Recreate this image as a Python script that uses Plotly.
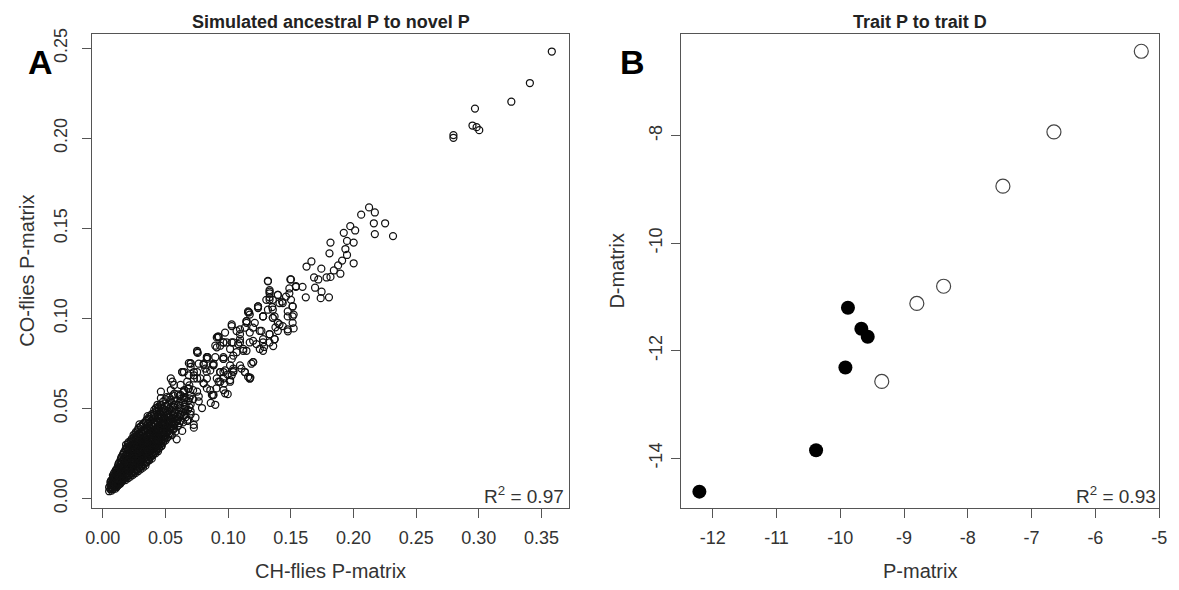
import plotly.graph_objects as go

# ---------------- Panel A: CH-flies vs CO-flies P-matrix elements ----------------
# sparse upper tail
a_tail = [
    (0.3582, 0.2482), (0.3407, 0.2307), (0.3259, 0.2203), (0.2969, 0.2165),
    (0.2949, 0.2071), (0.2982, 0.2062), (0.3003, 0.2045), (0.2797, 0.2018),
    (0.2797, 0.2003),
]

# upper arm of the cloud
a_arm = [
    (0.2124, 0.1616), (0.2061, 0.1576), (0.1974, 0.1512), (0.1922, 0.1475),
    (0.2013, 0.1488), (0.1948, 0.1430), (0.2001, 0.1421), (0.1816, 0.1421),
    (0.1935, 0.1385), (0.1808, 0.1361), (0.1948, 0.1352), (0.2001, 0.1306),
    (0.1909, 0.1321), (0.1877, 0.1294), (0.1843, 0.1266), (0.1895, 0.1248),
    (0.1664, 0.1316), (0.1625, 0.1288), (0.1743, 0.1276), (0.1816, 0.1230),
    (0.1785, 0.1227), (0.1685, 0.1227), (0.1719, 0.1216), (0.1693, 0.1170),
    (0.1745, 0.1148), (0.1804, 0.1117), (0.1738, 0.1112), (0.1619, 0.1117),
    (0.1593, 0.1175), (0.1540, 0.1175), (0.1501, 0.1216), (0.1488, 0.1166),
    (0.1501, 0.1103), (0.1514, 0.1066), (0.1461, 0.1121), (0.1396, 0.1130),
    (0.1330, 0.1157), (0.1317, 0.1208), (0.1330, 0.1117), (0.1430, 0.1093),
    (0.1238, 0.1066), (0.1159, 0.1033), (0.1351, 0.1063), (0.1370, 0.1011),
    (0.1278, 0.1011), (0.1475, 0.1011), (0.1514, 0.0975), (0.1435, 0.0957),
    (0.1146, 0.0975), (0.2170, 0.1588), (0.2252, 0.1528), (0.2162, 0.1528),
    (0.2170, 0.1468), (0.2315, 0.1457),
]

# middle section, moderately dense
a_mid = [
    (0.1317, 0.1206), (0.1496, 0.1216), (0.1541, 0.1179), (0.1330, 0.1148),
    (0.1396, 0.1130), (0.1488, 0.1139), (0.1330, 0.1103), (0.1435, 0.1085),
    (0.1514, 0.1066), (0.1356, 0.1048), (0.1475, 0.1039), (0.1514, 0.1011),
    (0.1167, 0.1033), (0.1278, 0.1011), (0.1356, 0.1003), (0.1409, 0.0966),
    (0.1475, 0.0939), (0.1396, 0.0930), (0.1238, 0.1057), (0.1146, 0.0984),
    (0.1028, 0.0957), (0.1199, 0.0948), (0.1265, 0.0930), (0.1330, 0.0912),
    (0.1094, 0.0912), (0.0923, 0.0894), (0.0988, 0.0866), (0.1080, 0.0857),
    (0.1172, 0.0866), (0.1278, 0.0884), (0.1370, 0.0884), (0.0909, 0.0839),
    (0.1015, 0.0830), (0.1120, 0.0820), (0.1199, 0.0757), (0.1028, 0.0775),
    (0.0962, 0.0784), (0.0752, 0.0812), (0.0830, 0.0784), (0.0700, 0.0748),
    (0.0883, 0.0748), (0.1094, 0.0739), (0.0817, 0.0721), (0.0647, 0.0702),
    (0.0752, 0.0702), (0.0962, 0.0702), (0.1041, 0.0721), (0.1133, 0.0702),
    (0.1172, 0.0666), (0.0542, 0.0666), (0.0620, 0.0630), (0.0726, 0.0666),
    (0.0804, 0.0639), (0.0909, 0.0666), (0.1015, 0.0657), (0.0857, 0.0602),
    (0.0752, 0.0593), (0.0647, 0.0593), (0.0962, 0.0602),
    (0.1330, 0.1139), (0.1409, 0.1085), (0.1238, 0.1066), (0.1159, 0.1039),
    (0.1278, 0.1011), (0.1356, 0.1003), (0.1396, 0.0975), (0.1146, 0.0984),
    (0.1212, 0.0975), (0.1028, 0.0966), (0.1094, 0.0939), (0.1067, 0.0930),
    (0.1172, 0.0921), (0.1252, 0.0930), (0.1330, 0.0912), (0.1370, 0.0884),
    (0.0909, 0.0894), (0.0962, 0.0866), (0.1028, 0.0866), (0.1094, 0.0866),
    (0.1199, 0.0875), (0.1278, 0.0866), (0.1252, 0.0830), (0.1146, 0.0820),
    (0.1067, 0.0812), (0.0962, 0.0775), (0.0897, 0.0784), (0.0752, 0.0820),
    (0.0830, 0.0775), (0.0765, 0.0748), (0.1015, 0.0739), (0.1106, 0.0721),
    (0.1185, 0.0748), (0.1159, 0.0675), (0.1028, 0.0684), (0.0936, 0.0702),
    (0.0857, 0.0711), (0.0686, 0.0684), (0.0752, 0.0666), (0.0830, 0.0666),
    (0.0962, 0.0666), (0.0700, 0.0730), (0.1317, 0.1048), (0.1356, 0.1103),
    (0.1304, 0.1103), (0.1172, 0.1021), (0.1133, 0.0948), (0.0975, 0.0921),
    (0.0923, 0.0899), (0.0962, 0.0866), (0.0897, 0.0848), (0.1041, 0.0866),
    (0.1094, 0.0884), (0.1120, 0.0830), (0.1225, 0.0857), (0.1330, 0.0866),
    (0.1278, 0.0820), (0.0830, 0.0784), (0.0962, 0.0775), (0.1041, 0.0793),
    (0.1199, 0.0757), (0.0686, 0.0751), (0.0804, 0.0742), (0.0883, 0.0739),
    (0.0975, 0.0711), (0.1041, 0.0702), (0.1133, 0.0702), (0.0633, 0.0702),
    (0.0726, 0.0702), (0.1172, 0.0666), (0.1015, 0.0648), (0.0923, 0.0648),
    (0.0804, 0.0639), (0.0673, 0.0648), (0.0568, 0.0630), (0.0463, 0.0593),
    (0.0975, 0.0584), (0.0870, 0.0575), (0.0765, 0.0566), (0.0647, 0.0557),
    (0.0542, 0.0539), (0.0897, 0.0520), (0.0791, 0.0502), (0.0700, 0.0484),
    (0.0620, 0.0466), (0.0515, 0.0484), (0.0436, 0.0520), (0.0726, 0.0393),
    (0.0633, 0.0375), (0.0568, 0.0411), (0.0673, 0.0430), (0.0489, 0.0430),
    (0.0757, 0.0808), (0.0836, 0.0784), (0.0700, 0.0751), (0.0917, 0.0899),
    (0.0936, 0.0848), (0.0804, 0.0748), (0.0878, 0.0742), (0.0633, 0.0702),
    (0.0555, 0.0648), (0.0463, 0.0557), (0.0542, 0.0602), (0.0423, 0.0502),
    (0.0357, 0.0457), (0.0292, 0.0411), (0.0778, 0.0666), (0.0830, 0.0611),
    (0.0883, 0.0575), (0.0765, 0.0539), (0.0700, 0.0466), (0.0828, 0.0704),
    (0.0726, 0.0684), (0.0686, 0.0611), (0.0620, 0.0575), (0.0568, 0.0520),
    (0.0515, 0.0466), (0.0660, 0.0484), (0.0936, 0.0702), (0.0936, 0.0648),
    (0.0594, 0.0430), (0.0489, 0.0411), (0.0739, 0.0448),
    (0.1359, 0.0846), (0.1286, 0.0841), (0.1177, 0.0671), (0.1042, 0.0710),
    (0.0996, 0.0688), (0.0969, 0.0639), (0.0906, 0.0611), (0.0996, 0.0579),
    (0.0879, 0.0573), (0.0861, 0.0530), (0.0725, 0.0409), (0.0679, 0.0437),
    (0.0562, 0.0382), (0.0589, 0.0328), (0.1522, 0.0944), (0.1476, 0.0928),
    (0.1377, 0.0950), (0.1522, 0.1021),
]

# dense core near the origin: (CH-flies value, [CO-flies values])
a_core_cols = [
    (0.005, [0.0040, 0.0062]),
    (0.006, [0.0051, 0.0072, 0.0090]),
    (0.007, [0.0043, 0.0063, 0.0081, 0.0102]),
    (0.008, [0.0052, 0.0071, 0.0093, 0.0112, 0.0128]),
    (0.009, [0.0061, 0.0083, 0.0101, 0.0119, 0.0142]),
    (0.010, [0.0054, 0.0072, 0.0094, 0.0108, 0.0131, 0.0152]),
    (0.011, [0.0063, 0.0080, 0.0103, 0.0122, 0.0141, 0.0163]),
    (0.012, [0.0071, 0.0092, 0.0112, 0.0133, 0.0154, 0.0179]),
    (0.013, [0.0078, 0.0101, 0.0121, 0.0143, 0.0168, 0.0198]),
    (0.014, [0.0083, 0.0109, 0.0132, 0.0158, 0.0187, 0.0211]),
    (0.015, [0.0092, 0.0118, 0.0141, 0.0172, 0.0201, 0.0232]),
    (0.016, [0.0101, 0.0128, 0.0152, 0.0181, 0.0213, 0.0243]),
    (0.017, [0.0109, 0.0139, 0.0163, 0.0192, 0.0222, 0.0258]),
    (0.018, [0.0102, 0.0131, 0.0168, 0.0201, 0.0233, 0.0271]),
    (0.019, [0.0118, 0.0151, 0.0182, 0.0212, 0.0248, 0.0283]),
    (0.020, [0.0112, 0.0141, 0.0172, 0.0203, 0.0238, 0.0268, 0.0302]),
    (0.021, [0.0129, 0.0161, 0.0192, 0.0221, 0.0252, 0.0291]),
    (0.022, [0.0121, 0.0152, 0.0181, 0.0213, 0.0242, 0.0273, 0.0312]),
    (0.023, [0.0138, 0.0171, 0.0201, 0.0232, 0.0262, 0.0299, 0.0331]),
    (0.024, [0.0131, 0.0162, 0.0193, 0.0221, 0.0253, 0.0282, 0.0318]),
    (0.025, [0.0148, 0.0181, 0.0212, 0.0241, 0.0272, 0.0302, 0.0341]),
    (0.026, [0.0141, 0.0172, 0.0201, 0.0233, 0.0261, 0.0292, 0.0329, 0.0362]),
    (0.027, [0.0158, 0.0191, 0.0222, 0.0251, 0.0282, 0.0311, 0.0352]),
    (0.028, [0.0151, 0.0182, 0.0211, 0.0242, 0.0271, 0.0302, 0.0338, 0.0381]),
    (0.029, [0.0168, 0.0201, 0.0231, 0.0262, 0.0291, 0.0322, 0.0361]),
    (0.030, [0.0161, 0.0192, 0.0221, 0.0252, 0.0281, 0.0312, 0.0349, 0.0398]),
    (0.031, [0.0178, 0.0211, 0.0242, 0.0271, 0.0302, 0.0331, 0.0372]),
    (0.032, [0.0171, 0.0202, 0.0231, 0.0262, 0.0291, 0.0322, 0.0358, 0.0412]),
    (0.033, [0.0189, 0.0222, 0.0251, 0.0282, 0.0312, 0.0341, 0.0381]),
    (0.034, [0.0182, 0.0211, 0.0242, 0.0271, 0.0302, 0.0338, 0.0372, 0.0421]),
    (0.035, [0.0201, 0.0232, 0.0261, 0.0292, 0.0322, 0.0351, 0.0391, 0.0438]),
    (0.036, [0.0219, 0.0252, 0.0281, 0.0311, 0.0342, 0.0379, 0.0412]),
    (0.037, [0.0212, 0.0241, 0.0272, 0.0302, 0.0331, 0.0362, 0.0401, 0.0452]),
    (0.038, [0.0229, 0.0262, 0.0291, 0.0322, 0.0351, 0.0389, 0.0428]),
    (0.039, [0.0221, 0.0252, 0.0281, 0.0312, 0.0342, 0.0371, 0.0411, 0.0468]),
    (0.040, [0.0241, 0.0272, 0.0301, 0.0331, 0.0362, 0.0398, 0.0441]),
    (0.041, [0.0259, 0.0291, 0.0322, 0.0352, 0.0381, 0.0419, 0.0462, 0.0492]),
    (0.042, [0.0251, 0.0282, 0.0311, 0.0342, 0.0371, 0.0409, 0.0451]),
    (0.043, [0.0271, 0.0302, 0.0331, 0.0362, 0.0392, 0.0428, 0.0481]),
    (0.044, [0.0262, 0.0291, 0.0322, 0.0351, 0.0382, 0.0418, 0.0462, 0.0508]),
    (0.045, [0.0281, 0.0312, 0.0341, 0.0372, 0.0402, 0.0441, 0.0489]),
    (0.046, [0.0301, 0.0331, 0.0362, 0.0391, 0.0422, 0.0468, 0.0521]),
    (0.047, [0.0292, 0.0322, 0.0351, 0.0382, 0.0411, 0.0452, 0.0502]),
    (0.048, [0.0311, 0.0342, 0.0371, 0.0402, 0.0431, 0.0479, 0.0538]),
    (0.049, [0.0331, 0.0362, 0.0391, 0.0422, 0.0459, 0.0511]),
    (0.050, [0.0322, 0.0351, 0.0382, 0.0411, 0.0442, 0.0489, 0.0551]),
    (0.052, [0.0342, 0.0371, 0.0402, 0.0431, 0.0471, 0.0522]),
    (0.053, [0.0362, 0.0391, 0.0422, 0.0451, 0.0499, 0.0561]),
    (0.055, [0.0351, 0.0382, 0.0412, 0.0441, 0.0482, 0.0531]),
    (0.056, [0.0402, 0.0431, 0.0462, 0.0509, 0.0572]),
    (0.058, [0.0372, 0.0421, 0.0452, 0.0491, 0.0541]),
    (0.060, [0.0402, 0.0441, 0.0471, 0.0519, 0.0578]),
    (0.062, [0.0431, 0.0462, 0.0502, 0.0551]),
    (0.064, [0.0422, 0.0481, 0.0532, 0.0589]),
    (0.066, [0.0451, 0.0509, 0.0561]),
    (0.068, [0.0492, 0.0541, 0.0608]),
    (0.070, [0.0521, 0.0572]),
    (0.072, [0.0551, 0.0601]),
]

# second, interleaved layer of the core
a_core_cols_b = [
    (0.0065, [0.0058, 0.0079, 0.0098]),
    (0.0085, [0.0066, 0.0088, 0.0106, 0.0124]),
    (0.0105, [0.0068, 0.0089, 0.0113, 0.0137, 0.0158]),
    (0.0125, [0.0086, 0.0106, 0.0127, 0.0149, 0.0172, 0.0192]),
    (0.0145, [0.0097, 0.0122, 0.0146, 0.0166, 0.0194, 0.0222]),
    (0.0165, [0.0113, 0.0136, 0.0161, 0.0187, 0.0218, 0.0251]),
    (0.0185, [0.0124, 0.0152, 0.0177, 0.0207, 0.0241, 0.0276, 0.0298]),
    (0.0205, [0.0133, 0.0158, 0.0186, 0.0216, 0.0246, 0.0279, 0.0312]),
    (0.0225, [0.0144, 0.0168, 0.0196, 0.0227, 0.0257, 0.0288, 0.0322]),
    (0.0245, [0.0152, 0.0177, 0.0207, 0.0236, 0.0266, 0.0296, 0.0331, 0.0352]),
    (0.0265, [0.0163, 0.0188, 0.0216, 0.0246, 0.0277, 0.0307, 0.0341, 0.0371]),
    (0.0285, [0.0172, 0.0197, 0.0226, 0.0257, 0.0286, 0.0317, 0.0352, 0.0391]),
    (0.0305, [0.0183, 0.0207, 0.0236, 0.0266, 0.0297, 0.0326, 0.0363, 0.0402]),
    (0.0325, [0.0193, 0.0217, 0.0247, 0.0277, 0.0306, 0.0337, 0.0372, 0.0418]),
    (0.0345, [0.0203, 0.0227, 0.0256, 0.0286, 0.0317, 0.0346, 0.0383, 0.0431]),
    (0.0365, [0.0214, 0.0238, 0.0266, 0.0297, 0.0326, 0.0357, 0.0393, 0.0442]),
    (0.0385, [0.0236, 0.0267, 0.0296, 0.0327, 0.0358, 0.0402, 0.0457]),
    (0.0405, [0.0247, 0.0278, 0.0307, 0.0338, 0.0368, 0.0412, 0.0472]),
    (0.0425, [0.0263, 0.0292, 0.0322, 0.0352, 0.0383, 0.0431, 0.0488]),
    (0.0445, [0.0276, 0.0306, 0.0336, 0.0367, 0.0397, 0.0447, 0.0502]),
    (0.0465, [0.0291, 0.0321, 0.0352, 0.0382, 0.0417, 0.0462, 0.0517]),
    (0.0485, [0.0318, 0.0348, 0.0378, 0.0412, 0.0449, 0.0497]),
    (0.0510, [0.0336, 0.0366, 0.0396, 0.0428, 0.0463, 0.0512, 0.0562]),
    (0.0540, [0.0358, 0.0388, 0.0418, 0.0452, 0.0492, 0.0548]),
    (0.0570, [0.0389, 0.0413, 0.0443, 0.0478, 0.0521, 0.0582]),
    (0.0610, [0.0418, 0.0452, 0.0488, 0.0532, 0.0571]),
    (0.0650, [0.0462, 0.0496, 0.0547, 0.0602]),
    (0.0690, [0.0507, 0.0556, 0.0628]),
]

a_core = [(x, y) for x, ys in a_core_cols + a_core_cols_b for y in ys]
a_points = a_core + a_mid + a_arm + a_tail
ch_flies = [p[0] for p in a_points]
co_flies = [p[1] for p in a_points]

a_xticks = [0.00, 0.05, 0.10, 0.15, 0.20, 0.25, 0.30, 0.35]
a_yticks = [0.00, 0.05, 0.10, 0.15, 0.20, 0.25]

# ---------------- Panel B: trait P vs trait D ----------------
p_open = [-5.28, -6.65, -7.45, -8.38, -8.80, -9.35]
d_open = [-6.43, -7.93, -8.94, -10.80, -11.12, -12.57]
p_filled = [-9.88, -9.67, -9.57, -9.92, -10.38, -12.21]
d_filled = [-11.20, -11.59, -11.74, -12.31, -13.85, -14.62]

b_xticks = [-12, -11, -10, -9, -8, -7, -6, -5]
b_yticks = [-14, -12, -10, -8]

W, H = 1179, 590
FONT = "Liberation Sans, Arial, Helvetica, sans-serif"
AXC = "#555555"
TXT = "#333333"

# plot-area boxes in pixels (left, right, top, bottom)
boxA = (87, 570, 29, 512)
boxB = (683, 1167, 29, 512)


def xdom(b):
    return [b[0] / W, b[1] / W]


def ydom(b):
    return [(H - b[3]) / H, (H - b[2]) / H]


fig = go.Figure()

fig.add_trace(go.Scatter(
    x=ch_flies, y=co_flies, mode="markers",
    marker=dict(symbol="circle-open", size=7,
                line=dict(width=1.25, color="#111111"),
                color="#111111"),
    xaxis="x", yaxis="y", showlegend=False, hoverinfo="skip"))

fig.add_trace(go.Scatter(
    x=p_open, y=d_open, mode="markers",
    marker=dict(symbol="circle-open", size=14,
                line=dict(width=1.2, color="#444444"), color="#444444"),
    xaxis="x2", yaxis="y2", showlegend=False, hoverinfo="skip"))

fig.add_trace(go.Scatter(
    x=p_filled, y=d_filled, mode="markers",
    marker=dict(symbol="circle", size=14, color="black",
                line=dict(width=0)),
    xaxis="x2", yaxis="y2", showlegend=False, hoverinfo="skip"))


def fmt(v, nd):
    return f"{v:.{nd}f}"


common = dict(showgrid=False, zeroline=False, showline=True, linecolor=AXC,
              linewidth=1.2, mirror=True, ticks="outside", ticklen=9,
              tickwidth=1, tickcolor=AXC,
              tickfont=dict(family=FONT, size=18, color=TXT))

fig.update_layout(
    width=W, height=H, margin=dict(l=0, r=0, t=0, b=0),
    paper_bgcolor="white", plot_bgcolor="white",
    xaxis=dict(domain=xdom(boxA), range=[-0.0087, 0.3721], anchor="y",
               tickmode="array", tickvals=a_xticks, ticklabelstandoff=4,
               ticktext=[fmt(v, 2) for v in a_xticks], **common),
    yaxis=dict(domain=ydom(boxA), range=[-0.0055, 0.2582], anchor="x",
               tickmode="array", tickvals=a_yticks, tickangle=-90,
               ticklabelstandoff=8,
               ticktext=[fmt(v, 2) for v in a_yticks], **common),
    xaxis2=dict(domain=xdom(boxB), range=[-12.5, -5.0], anchor="y2",
                tickmode="array", tickvals=b_xticks, ticklabelstandoff=4,
                ticktext=[str(v) for v in b_xticks], **common),
    yaxis2=dict(domain=ydom(boxB), range=[-14.93, -6.10], anchor="x2",
                tickmode="array", tickvals=b_yticks, tickangle=-90,
                ticklabelstandoff=2,
                ticktext=[str(v) for v in b_yticks], **common),
)


def px_x(v):
    return v / W


def px_y(v):
    return (H - v) / H


def note(text, x, y, size, bold=False, angle=0, xanchor="center",
         yanchor="middle", color=TXT):
    fig.add_annotation(
        text=f"<b>{text}</b>" if bold else text,
        x=px_x(x), y=px_y(y), xref="paper", yref="paper",
        showarrow=False, textangle=angle, xanchor=xanchor, yanchor=yanchor,
        font=dict(family=FONT, size=size, color=color))


# panel titles
note("Simulated ancestral P to novel P", (boxA[0] + boxA[1]) / 2, 17, 18, bold=True, color="#222222")
note("Trait P to trait D", (boxB[0] + boxB[1]) / 2, 17, 18, bold=True, color="#222222")

# panel letters
note("A", 35, 58, 34, bold=True, color="black")
note("B", 634, 58, 34, bold=True, color="black")

# axis titles
note("CH-flies P-matrix", (boxA[0] + boxA[1]) / 2, 576, 20)
note("CO-flies P-matrix", 21, (boxA[2] + boxA[3]) / 2, 20, angle=-90)
note("P-matrix", (boxB[0] + boxB[1]) / 2, 576, 20)
note("D-matrix", 618, (boxB[2] + boxB[3]) / 2, 20, angle=-90)

# fit statistics
note("R<sup>2</sup> = 0.97", boxA[1] - 3, boxA[3] + 1, 19, xanchor="right", yanchor="bottom")
note("R<sup>2</sup> = 0.93", boxB[1] - 1, boxB[3] + 1, 19, xanchor="right", yanchor="bottom")

fig.write_html("out.html")
